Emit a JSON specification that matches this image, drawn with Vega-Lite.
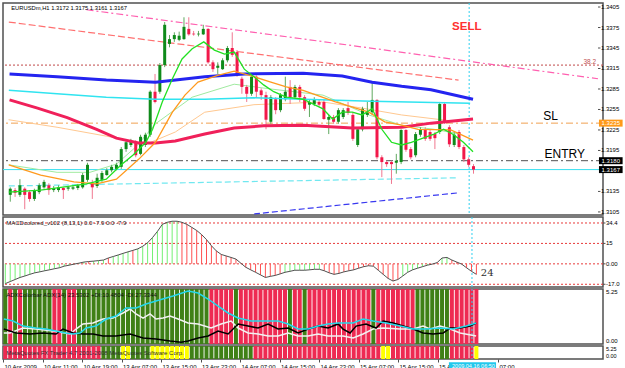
{
"$schema":"https://vega.github.io/schema/vega-lite/v6.json",
"padding":{"left":0,"top":1,"right":0,"bottom":0},
"background":"#ffffff",
"spacing":2,
"bounds":"flush",
"config":{"view":{"stroke":"#505050","strokeWidth":1.5,"fill":"#ffffff"},
"axis":{"grid":false,"title":null,"domain":false,"labelFont":"Liberation Sans","labelFontSize":6,"labelColor":"#000000","tickColor":"#505050","tickSize":2,"labelPadding":1,"labelFlush":false,"labelOverlap":false},
"text":{"font":"Liberation Sans"}},
"datasets":{
"candles":[
{"i":0,"o":1.3130,"h":1.3141,"l":1.3120,"c":1.3139},
{"i":1,"o":1.3137,"h":1.3140,"l":1.3127,"c":1.3133},
{"i":2,"o":1.3130,"h":1.3153,"l":1.3127,"c":1.3144},
{"i":3,"o":1.3139,"h":1.3141,"l":1.3109,"c":1.3130},
{"i":4,"o":1.3134,"h":1.3137,"l":1.3120,"c":1.3124},
{"i":5,"o":1.3124,"h":1.3139,"l":1.3121,"c":1.3136},
{"i":6,"o":1.3134,"h":1.3147,"l":1.3131,"c":1.3144},
{"i":7,"o":1.3141,"h":1.3152,"l":1.3139,"c":1.3149},
{"i":8,"o":1.3144,"h":1.3147,"l":1.3130,"c":1.3137},
{"i":9,"o":1.3137,"h":1.3143,"l":1.3134,"c":1.3140},
{"i":10,"o":1.3137,"h":1.3144,"l":1.3134,"c":1.3141},
{"i":11,"o":1.3140,"h":1.3141,"l":1.3124,"c":1.3137},
{"i":12,"o":1.3139,"h":1.3143,"l":1.3136,"c":1.3141},
{"i":13,"o":1.3139,"h":1.3144,"l":1.3137,"c":1.3141},
{"i":14,"o":1.3140,"h":1.3146,"l":1.3137,"c":1.3144},
{"i":15,"o":1.3141,"h":1.3162,"l":1.3139,"c":1.3159},
{"i":16,"o":1.3152,"h":1.3177,"l":1.3149,"c":1.3174},
{"i":17,"o":1.3147,"h":1.3152,"l":1.3124,"c":1.3141},
{"i":18,"o":1.3143,"h":1.3161,"l":1.3140,"c":1.3155},
{"i":19,"o":1.3152,"h":1.3165,"l":1.3149,"c":1.3162},
{"i":20,"o":1.3159,"h":1.3169,"l":1.3158,"c":1.3166},
{"i":21,"o":1.3166,"h":1.3174,"l":1.3163,"c":1.3171},
{"i":22,"o":1.3168,"h":1.3177,"l":1.3166,"c":1.3174},
{"i":23,"o":1.3171,"h":1.3200,"l":1.3168,"c":1.3197},
{"i":24,"o":1.3197,"h":1.3210,"l":1.3193,"c":1.3207},
{"i":25,"o":1.3203,"h":1.3212,"l":1.3200,"c":1.3209},
{"i":26,"o":1.3207,"h":1.3210,"l":1.3185,"c":1.3188},
{"i":27,"o":1.3190,"h":1.3218,"l":1.3188,"c":1.3215},
{"i":28,"o":1.3203,"h":1.3221,"l":1.3200,"c":1.3218},
{"i":29,"o":1.3218,"h":1.3283,"l":1.3215,"c":1.3281},
{"i":30,"o":1.3281,"h":1.3307,"l":1.3264,"c":1.3266},
{"i":31,"o":1.3281,"h":1.3323,"l":1.3278,"c":1.3320},
{"i":32,"o":1.3320,"h":1.3383,"l":1.3317,"c":1.3379},
{"i":33,"o":1.3351,"h":1.3364,"l":1.3346,"c":1.3358},
{"i":34,"o":1.3358,"h":1.3368,"l":1.3354,"c":1.3364},
{"i":35,"o":1.3357,"h":1.3369,"l":1.3355,"c":1.3363},
{"i":36,"o":1.3358,"h":1.3390,"l":1.3357,"c":1.3376},
{"i":37,"o":1.3373,"h":1.3390,"l":1.3363,"c":1.3365},
{"i":38,"o":1.3366,"h":1.3370,"l":1.3363,"c":1.3365},
{"i":39,"o":1.3365,"h":1.3370,"l":1.3362,"c":1.3366},
{"i":40,"o":1.3365,"h":1.3379,"l":1.3364,"c":1.3373},
{"i":41,"o":1.3373,"h":1.3374,"l":1.3322,"c":1.3324},
{"i":42,"o":1.3324,"h":1.3327,"l":1.3310,"c":1.3314},
{"i":43,"o":1.3316,"h":1.3324,"l":1.3307,"c":1.3319},
{"i":44,"o":1.3314,"h":1.3330,"l":1.3313,"c":1.3327},
{"i":45,"o":1.3327,"h":1.3348,"l":1.3324,"c":1.3345},
{"i":46,"o":1.3345,"h":1.3368,"l":1.3332,"c":1.3335},
{"i":47,"o":1.3339,"h":1.3342,"l":1.3303,"c":1.3305},
{"i":48,"o":1.3300,"h":1.3303,"l":1.3278,"c":1.3288},
{"i":49,"o":1.3288,"h":1.3291,"l":1.3266,"c":1.3278},
{"i":50,"o":1.3278,"h":1.3305,"l":1.3275,"c":1.3303},
{"i":51,"o":1.3303,"h":1.3305,"l":1.3272,"c":1.3281},
{"i":52,"o":1.3283,"h":1.3286,"l":1.3269,"c":1.3276},
{"i":53,"o":1.3276,"h":1.3281,"l":1.3226,"c":1.3240},
{"i":54,"o":1.3237,"h":1.3276,"l":1.3234,"c":1.3273},
{"i":55,"o":1.3270,"h":1.3273,"l":1.3248,"c":1.3254},
{"i":56,"o":1.3254,"h":1.3279,"l":1.3251,"c":1.3276},
{"i":57,"o":1.3270,"h":1.3303,"l":1.3267,"c":1.3281},
{"i":58,"o":1.3288,"h":1.3298,"l":1.3263,"c":1.3273},
{"i":59,"o":1.3273,"h":1.3291,"l":1.3270,"c":1.3288},
{"i":60,"o":1.3288,"h":1.3291,"l":1.3266,"c":1.3273},
{"i":61,"o":1.3273,"h":1.3276,"l":1.3253,"c":1.3256},
{"i":62,"o":1.3262,"h":1.3270,"l":1.3244,"c":1.3266},
{"i":63,"o":1.3263,"h":1.3273,"l":1.3260,"c":1.3270},
{"i":64,"o":1.3266,"h":1.3269,"l":1.3259,"c":1.3262},
{"i":65,"o":1.3266,"h":1.3269,"l":1.3240,"c":1.3241},
{"i":66,"o":1.3240,"h":1.3247,"l":1.3219,"c":1.3244},
{"i":67,"o":1.3244,"h":1.3247,"l":1.3234,"c":1.3237},
{"i":68,"o":1.3237,"h":1.3257,"l":1.3234,"c":1.3254},
{"i":69,"o":1.3244,"h":1.3257,"l":1.3241,"c":1.3254},
{"i":70,"o":1.3257,"h":1.3266,"l":1.3247,"c":1.3250},
{"i":71,"o":1.3247,"h":1.3251,"l":1.3209,"c":1.3212},
{"i":72,"o":1.3203,"h":1.3229,"l":1.3200,"c":1.3226},
{"i":73,"o":1.3226,"h":1.3259,"l":1.3223,"c":1.3256},
{"i":74,"o":1.3247,"h":1.3266,"l":1.3244,"c":1.3251},
{"i":75,"o":1.3251,"h":1.3295,"l":1.3247,"c":1.3269},
{"i":76,"o":1.3269,"h":1.3270,"l":1.3182,"c":1.3185},
{"i":77,"o":1.3185,"h":1.3188,"l":1.3156,"c":1.3178},
{"i":78,"o":1.3178,"h":1.3180,"l":1.3171,"c":1.3175},
{"i":79,"o":1.3178,"h":1.3180,"l":1.3146,"c":1.3175},
{"i":80,"o":1.3177,"h":1.3190,"l":1.3161,"c":1.3180},
{"i":81,"o":1.3178,"h":1.3226,"l":1.3175,"c":1.3225},
{"i":82,"o":1.3225,"h":1.3226,"l":1.3193,"c":1.3196},
{"i":83,"o":1.3197,"h":1.3200,"l":1.3182,"c":1.3185},
{"i":84,"o":1.3188,"h":1.3222,"l":1.3185,"c":1.3219},
{"i":85,"o":1.3218,"h":1.3229,"l":1.3215,"c":1.3225},
{"i":86,"o":1.3225,"h":1.3229,"l":1.3209,"c":1.3212},
{"i":87,"o":1.3222,"h":1.3225,"l":1.3209,"c":1.3212},
{"i":88,"o":1.3219,"h":1.3222,"l":1.3197,"c":1.3213},
{"i":89,"o":1.3222,"h":1.3266,"l":1.3219,"c":1.3263},
{"i":90,"o":1.3263,"h":1.3266,"l":1.3234,"c":1.3237},
{"i":91,"o":1.3229,"h":1.3232,"l":1.3200,"c":1.3204},
{"i":92,"o":1.3203,"h":1.3222,"l":1.3200,"c":1.3218},
{"i":93,"o":1.3222,"h":1.3225,"l":1.3197,"c":1.3200},
{"i":94,"o":1.3200,"h":1.3203,"l":1.3178,"c":1.3182},
{"i":95,"o":1.3182,"h":1.3185,"l":1.3171,"c":1.3174},
{"i":96,"o":1.3172,"h":1.3175,"l":1.3161,"c":1.3167}
],
"ma":[
{"s":"blue","i":-0.15,"p":1.3307},{"s":"blue","i":9.7,"p":1.3303},{"s":"blue","i":19.9,"p":1.3298},{"s":"blue","i":30.1,"p":1.3295},{"s":"blue","i":40.3,"p":1.3303},{"s":"blue","i":48.5,"p":1.3307},{"s":"blue","i":60.7,"p":1.3308},{"s":"blue","i":68.8,"p":1.3304},{"s":"blue","i":75.0,"p":1.3295},{"s":"blue","i":81.1,"p":1.3289},{"s":"blue","i":87.2,"p":1.3284},{"s":"blue","i":95.9,"p":1.3270},
{"s":"cyan","i":-0.3,"p":1.3283},{"s":"cyan","i":9.7,"p":1.3278},{"s":"cyan","i":19.9,"p":1.3273},{"s":"cyan","i":30.1,"p":1.3270},{"s":"cyan","i":40.3,"p":1.3270},{"s":"cyan","i":50.5,"p":1.3272},{"s":"cyan","i":60.7,"p":1.3270},{"s":"cyan","i":74.9,"p":1.3267},{"s":"cyan","i":95.3,"p":1.3264},
{"s":"red","i":-0.15,"p":1.3269},{"s":"red","i":5.65,"p":1.3257},{"s":"red","i":11.8,"p":1.3243},{"s":"red","i":17.9,"p":1.3226},{"s":"red","i":22,"p":1.3213},{"s":"red","i":26.6,"p":1.3206},{"s":"red","i":30.1,"p":1.3206},{"s":"red","i":34.2,"p":1.3209},{"s":"red","i":40.3,"p":1.3219},{"s":"red","i":46.4,"p":1.3228},{"s":"red","i":52.5,"p":1.3231},{"s":"red","i":60.7,"p":1.3232},{"s":"red","i":70.9,"p":1.3228},{"s":"red","i":81.1,"p":1.3229},{"s":"red","i":87.2,"p":1.3235},{"s":"red","i":95.9,"p":1.3241},
{"s":"orange","i":-0.3,"p":1.3174},{"s":"orange","i":6.3,"p":1.3159},{"s":"orange","i":13.2,"p":1.3149},{"s":"orange","i":17.9,"p":1.3146},{"s":"orange","i":22,"p":1.3153},{"s":"orange","i":26.6,"p":1.3182},{"s":"orange","i":30.1,"p":1.3207},{"s":"orange","i":33.6,"p":1.3251},{"s":"orange","i":36.2,"p":1.3276},{"s":"orange","i":38.9,"p":1.3295},{"s":"orange","i":43,"p":1.3305},{"s":"orange","i":46.4,"p":1.3311},{"s":"orange","i":50.5,"p":1.3303},{"s":"orange","i":54,"p":1.3295},{"s":"orange","i":57.2,"p":1.3288},{"s":"orange","i":60.7,"p":1.3283},{"s":"orange","i":67.4,"p":1.3266},{"s":"orange","i":74.3,"p":1.3251},{"s":"orange","i":77.6,"p":1.3237},{"s":"orange","i":81.1,"p":1.3232},{"s":"orange","i":84.5,"p":1.3226},{"s":"orange","i":91.3,"p":1.3225},{"s":"orange","i":95.9,"p":1.3210},
{"s":"green","i":-0.3,"p":1.3134},{"s":"green","i":6.3,"p":1.3137},{"s":"green","i":15.8,"p":1.3146},{"s":"green","i":19.9,"p":1.3153},{"s":"green","i":23,"p":1.3174},{"s":"green","i":25.4,"p":1.3188},{"s":"green","i":28.1,"p":1.3207},{"s":"green","i":29.5,"p":1.3226},{"s":"green","i":31.5,"p":1.3266},{"s":"green","i":33.6,"p":1.3300},{"s":"green","i":35.6,"p":1.3329},{"s":"green","i":37.7,"p":1.3344},{"s":"green","i":40.1,"p":1.3354},{"s":"green","i":42.3,"p":1.3342},{"s":"green","i":44.4,"p":1.3336},{"s":"green","i":46.4,"p":1.3339},{"s":"green","i":48.5,"p":1.3314},{"s":"green","i":50.5,"p":1.3303},{"s":"green","i":52.5,"p":1.3291},{"s":"green","i":54.6,"p":1.3281},{"s":"green","i":57.2,"p":1.3273},{"s":"green","i":60.7,"p":1.3270},{"s":"green","i":64.8,"p":1.3256},{"s":"green","i":66.8,"p":1.3241},{"s":"green","i":68.8,"p":1.3251},{"s":"green","i":70.9,"p":1.3251},{"s":"green","i":72.9,"p":1.3247},{"s":"green","i":75,"p":1.3256},{"s":"green","i":77,"p":1.3226},{"s":"green","i":79,"p":1.3207},{"s":"green","i":81.1,"p":1.3203},{"s":"green","i":83.1,"p":1.3207},{"s":"green","i":85.1,"p":1.3212},{"s":"green","i":87.8,"p":1.3219},{"s":"green","i":89.8,"p":1.3226},{"s":"green","i":91.9,"p":1.3218},{"s":"green","i":93.9,"p":1.3207},{"s":"green","i":95.9,"p":1.3193},
{"s":"lgreen","i":-0.35,"p":1.3174},{"s":"lgreen","i":9.7,"p":1.3163},{"s":"lgreen","i":16.5,"p":1.3163},{"s":"lgreen","i":22,"p":1.3175},{"s":"lgreen","i":26,"p":1.3200},{"s":"lgreen","i":30.1,"p":1.3234},{"s":"lgreen","i":37.7,"p":1.3273},{"s":"lgreen","i":46.4,"p":1.3292},{"s":"lgreen","i":54,"p":1.3285},{"s":"lgreen","i":64.8,"p":1.3276},{"s":"lgreen","i":74.3,"p":1.3247},{"s":"lgreen","i":81.1,"p":1.3232},{"s":"lgreen","i":87.8,"p":1.3226},{"s":"lgreen","i":93.3,"p":1.3219},
{"s":"lorange","i":-0.35,"p":1.3240},{"s":"lorange","i":9.7,"p":1.3229},{"s":"lorange","i":19.9,"p":1.3216},{"s":"lorange","i":28.1,"p":1.3204},{"s":"lorange","i":34.2,"p":1.3222},{"s":"lorange","i":40.3,"p":1.3251},{"s":"lorange","i":50.5,"p":1.3262},{"s":"lorange","i":64.8,"p":1.3266},{"s":"lorange","i":72.9,"p":1.3257},{"s":"lorange","i":81.1,"p":1.3247},{"s":"lorange","i":92.9,"p":1.3237}
],
"tl":[
{"s":"pink","i":15.8,"p":1.3401},{"s":"pink","i":121.8,"p":1.3300},
{"s":"salmon","i":-0.3,"p":1.3383},{"s":"salmon","i":92.9,"p":1.3298},
{"s":"cyand","i":-0.3,"p":1.3143},{"s":"cyand","i":92.9,"p":1.3155},
{"s":"blued","i":50.5,"p":1.3102},{"s":"blued","i":92.9,"p":1.3133}
],
"lvl":[{"s":"fib","p":1.3320},{"s":"sl","p":1.3235},{"s":"entry","p":1.3180},{"s":"bid","p":1.3167}],
"tags":[{"p":1.3235,"t":"1.3235","k":"sl"},{"p":1.3180,"t":"1.3180","k":"e"},{"p":1.3167,"t":"1.3167","k":"b"}],
"ylabMain":[{"p":1.3405,"t":"1.3405"},{"p":1.3375,"t":"1.3375"},{"p":1.3345,"t":"1.3345"},{"p":1.3315,"t":"1.3315"},{"p":1.3285,"t":"1.3285"},{"p":1.3255,"t":"1.3255"},{"p":1.3225,"t":"1.3225"},{"p":1.3195,"t":"1.3195"},{"p":1.3135,"t":"1.3135"},{"p":1.3105,"t":"1.3105"}],
"ylabMacd":[{"v":30,"t":"34.4"},{"v":15,"t":"15"},{"v":0,"t":"0.00"},{"v":-15,"t":"-17.0"}],
"ylabAdx":[{"v":5.1,"t":"5.25"},{"v":0.15,"t":"0.00"}],
"ylabStrip":[{"v":0.78,"t":"5.25"},{"v":0.22,"t":"0.00"}],
"now":[{"i":95.1}],
"macd":[
{"i":0,"v":-14.5,"t":"u"},{"i":1,"v":-13,"t":"u"},{"i":2,"v":-11.5,"t":"u"},{"i":3,"v":-10,"t":"u"},{"i":4,"v":-8.9,"t":"u"},{"i":5,"v":-7.7,"t":"u"},{"i":6,"v":-6.6,"t":"u"},{"i":7,"v":-5.9,"t":"u"},{"i":8,"v":-5.1,"t":"u"},{"i":9,"v":-4.4,"t":"u"},{"i":10,"v":-3.6,"t":"u"},{"i":11,"v":-2.9,"t":"u"},{"i":12,"v":-1.7,"t":"u"},{"i":13,"v":-1,"t":"u"},{"i":14,"v":-0.2,"t":"u"},{"i":15,"v":0.5,"t":"u"},{"i":16,"v":1.3,"t":"u"},{"i":17,"v":1.7,"t":"d"},{"i":18,"v":2,"t":"u"},{"i":19,"v":2.4,"t":"u"},{"i":20,"v":2.8,"t":"u"},{"i":21,"v":4.3,"t":"d"},{"i":22,"v":5.4,"t":"u"},{"i":23,"v":6.5,"t":"u"},{"i":24,"v":7.7,"t":"u"},{"i":25,"v":8.8,"t":"u"},{"i":26,"v":9.9,"t":"d"},{"i":27,"v":11,"t":"u"},{"i":28,"v":12.9,"t":"u"},{"i":29,"v":15.5,"t":"u"},{"i":30,"v":19.3,"t":"u"},{"i":31,"v":23.8,"t":"u"},{"i":32,"v":29,"t":"u"},{"i":33,"v":30.5,"t":"u"},{"i":34,"v":31.3,"t":"u"},{"i":35,"v":31.3,"t":"u"},{"i":36,"v":30.5,"t":"d"},{"i":37,"v":29,"t":"d"},{"i":38,"v":26.8,"t":"d"},{"i":39,"v":24.5,"t":"d"},{"i":40,"v":21.5,"t":"d"},{"i":41,"v":17.8,"t":"d"},{"i":42,"v":13.3,"t":"d"},{"i":43,"v":9.5,"t":"d"},{"i":44,"v":6.9,"t":"d"},{"i":45,"v":5.8,"t":"d"},{"i":46,"v":4.7,"t":"d"},{"i":47,"v":3.5,"t":"d"},{"i":48,"v":0.5,"t":"d"},{"i":49,"v":-2.5,"t":"d"},{"i":50,"v":-4.4,"t":"d"},{"i":51,"v":-6.2,"t":"d"},{"i":52,"v":-8.1,"t":"d"},{"i":53,"v":-10,"t":"d"},{"i":54,"v":-9.2,"t":"d"},{"i":55,"v":-8.5,"t":"d"},{"i":56,"v":-7.4,"t":"d"},{"i":57,"v":-6.2,"t":"u"},{"i":58,"v":-5.5,"t":"u"},{"i":59,"v":-4.7,"t":"u"},{"i":60,"v":-4.7,"t":"u"},{"i":61,"v":-4.7,"t":"u"},{"i":62,"v":-4.4,"t":"u"},{"i":63,"v":-4,"t":"u"},{"i":64,"v":-4,"t":"u"},{"i":65,"v":-5.1,"t":"d"},{"i":66,"v":-6.6,"t":"d"},{"i":67,"v":-7.7,"t":"d"},{"i":68,"v":-7,"t":"d"},{"i":69,"v":-5.9,"t":"d"},{"i":70,"v":-5.1,"t":"d"},{"i":71,"v":-4.4,"t":"d"},{"i":72,"v":-3.2,"t":"d"},{"i":73,"v":-2.1,"t":"d"},{"i":74,"v":-1.4,"t":"d"},{"i":75,"v":-1.7,"t":"d"},{"i":76,"v":-4.7,"t":"d"},{"i":77,"v":-7.7,"t":"d"},{"i":78,"v":-10.7,"t":"d"},{"i":79,"v":-12.6,"t":"d"},{"i":80,"v":-11.5,"t":"d"},{"i":81,"v":-8.9,"t":"u"},{"i":82,"v":-6.2,"t":"u"},{"i":83,"v":-4.4,"t":"u"},{"i":84,"v":-3.2,"t":"u"},{"i":85,"v":-2.1,"t":"u"},{"i":86,"v":-1,"t":"u"},{"i":87,"v":-0.2,"t":"d"},{"i":88,"v":0.9,"t":"d"},{"i":89,"v":4.3,"t":"u"},{"i":90,"v":4.7,"t":"u"},{"i":91,"v":2.8,"t":"d"},{"i":92,"v":1.3,"t":"d"},{"i":93,"v":-0.2,"t":"d"},{"i":94,"v":-2.9,"t":"d"},{"i":95,"v":-5.5,"t":"d"},{"i":96,"v":-7.7,"t":"d"}
],
"macdlvl":[{"v":30},{"v":15},{"v":0},{"v":-15}],
"adxc":[
{"i":0,"c":"G"},{"i":1,"c":"R"},{"i":2,"c":"G"},{"i":3,"c":"R"},{"i":4,"c":"G"},{"i":5,"c":"G"},{"i":6,"c":"G"},{"i":7,"c":"G"},{"i":8,"c":"G"},{"i":9,"c":"G"},{"i":10,"c":"R"},{"i":11,"c":"R"},{"i":12,"c":"G"},{"i":13,"c":"R"},{"i":14,"c":"R"},{"i":15,"c":"G"},{"i":16,"c":"G"},{"i":17,"c":"G"},{"i":18,"c":"G"},{"i":19,"c":"G"},{"i":20,"c":"G"},{"i":21,"c":"G"},{"i":22,"c":"G"},{"i":23,"c":"G"},{"i":24,"c":"G"},{"i":25,"c":"G"},{"i":26,"c":"G"},{"i":27,"c":"G"},{"i":28,"c":"G"},{"i":29,"c":"G"},{"i":30,"c":"G"},{"i":31,"c":"G"},{"i":32,"c":"G"},{"i":33,"c":"G"},{"i":34,"c":"G"},{"i":35,"c":"G"},{"i":36,"c":"G"},{"i":37,"c":"G"},{"i":38,"c":"G"},{"i":39,"c":"G"},{"i":40,"c":"G"},{"i":41,"c":"G"},{"i":42,"c":"R"},{"i":43,"c":"R"},{"i":44,"c":"R"},{"i":45,"c":"R"},{"i":46,"c":"R"},{"i":47,"c":"G"},{"i":48,"c":"R"},{"i":49,"c":"R"},{"i":50,"c":"R"},{"i":51,"c":"R"},{"i":52,"c":"R"},{"i":53,"c":"R"},{"i":54,"c":"R"},{"i":55,"c":"R"},{"i":56,"c":"R"},{"i":57,"c":"R"},{"i":58,"c":"G"},{"i":59,"c":"R"},{"i":60,"c":"R"},{"i":61,"c":"G"},{"i":62,"c":"R"},{"i":63,"c":"R"},{"i":64,"c":"R"},{"i":65,"c":"R"},{"i":66,"c":"R"},{"i":67,"c":"R"},{"i":68,"c":"R"},{"i":69,"c":"R"},{"i":70,"c":"R"},{"i":71,"c":"R"},{"i":72,"c":"R"},{"i":73,"c":"R"},{"i":74,"c":"R"},{"i":75,"c":"G"},{"i":76,"c":"R"},{"i":77,"c":"R"},{"i":78,"c":"R"},{"i":79,"c":"R"},{"i":80,"c":"R"},{"i":81,"c":"R"},{"i":82,"c":"R"},{"i":83,"c":"R"},{"i":84,"c":"G"},{"i":85,"c":"G"},{"i":86,"c":"G"},{"i":87,"c":"G"},{"i":88,"c":"G"},{"i":89,"c":"G"},{"i":90,"c":"G"},{"i":91,"c":"R"},{"i":92,"c":"R"},{"i":93,"c":"R"},{"i":94,"c":"R"},{"i":95,"c":"R"},{"i":96,"c":"R"}
],
"adxl":[
{"s":"adx","i":-0.3,"v":2.37},{"s":"adx","i":1.57,"v":2.17},{"s":"adx","i":3.61,"v":1.66},{"s":"adx","i":6.26,"v":1.46},{"s":"adx","i":8.3,"v":1.36},{"s":"adx","i":10.33,"v":1.16},{"s":"adx","i":12.37,"v":0.96},{"s":"adx","i":13.8,"v":0.86},{"s":"adx","i":15.23,"v":0.96},{"s":"adx","i":16.45,"v":1.46},{"s":"adx","i":18.49,"v":1.66},{"s":"adx","i":20.53,"v":2.37},{"s":"adx","i":22.56,"v":2.67},{"s":"adx","i":24.6,"v":3.48},{"s":"adx","i":26.64,"v":3.48},{"s":"adx","i":28.68,"v":3.88},{"s":"adx","i":30.72,"v":4.19},{"s":"adx","i":32.76,"v":4.49},{"s":"adx","i":34.18,"v":4.69},{"s":"adx","i":37.24,"v":5.2},{"s":"adx","i":39.28,"v":4.99},{"s":"adx","i":41.32,"v":4.39},{"s":"adx","i":43.36,"v":3.68},{"s":"adx","i":45.4,"v":2.98},{"s":"adx","i":47.44,"v":2.47},{"s":"adx","i":50.08,"v":2.17},{"s":"adx","i":53.55,"v":2.17},{"s":"adx","i":55.59,"v":2.17},{"s":"adx","i":57.63,"v":1.87},{"s":"adx","i":59.67,"v":1.36},{"s":"adx","i":61.7,"v":1.36},{"s":"adx","i":63.74,"v":1.66},{"s":"adx","i":65.78,"v":1.87},{"s":"adx","i":67.82,"v":1.97},{"s":"adx","i":70.88,"v":1.97},{"s":"adx","i":72.91,"v":2.37},{"s":"adx","i":74.95,"v":2.17},{"s":"adx","i":77.6,"v":1.97},{"s":"adx","i":80.46,"v":1.66},{"s":"adx","i":83.11,"v":1.36},{"s":"adx","i":85.76,"v":1.36},{"s":"adx","i":88.61,"v":1.46},{"s":"adx","i":91.26,"v":1.36},{"s":"adx","i":93.91,"v":1.66},{"s":"adx","i":95.94,"v":1.97},
{"s":"pdi","i":-0.3,"v":0.96},{"s":"pdi","i":0.96,"v":0.96},{"s":"pdi","i":3.61,"v":1.46},{"s":"pdi","i":6.26,"v":1.36},{"s":"pdi","i":9.72,"v":1.16},{"s":"pdi","i":13.19,"v":0.86},{"s":"pdi","i":14.41,"v":1.36},{"s":"pdi","i":15.84,"v":1.87},{"s":"pdi","i":17.88,"v":1.97},{"s":"pdi","i":19.91,"v":2.37},{"s":"pdi","i":21.95,"v":2.47},{"s":"pdi","i":23.99,"v":2.98},{"s":"pdi","i":25.42,"v":3.38},{"s":"pdi","i":26.64,"v":2.88},{"s":"pdi","i":28.07,"v":2.47},{"s":"pdi","i":29.49,"v":2.88},{"s":"pdi","i":30.72,"v":2.37},{"s":"pdi","i":32.14,"v":2.47},{"s":"pdi","i":33.57,"v":2.67},{"s":"pdi","i":35.2,"v":2.37},{"s":"pdi","i":37.24,"v":1.97},{"s":"pdi","i":39.28,"v":1.87},{"s":"pdi","i":41.93,"v":1.46},{"s":"pdi","i":43.97,"v":1.87},{"s":"pdi","i":46.01,"v":2.17},{"s":"pdi","i":47.44,"v":1.46},{"s":"pdi","i":49.47,"v":0.96},{"s":"pdi","i":51.51,"v":0.86},{"s":"pdi","i":53.55,"v":0.66},{"s":"pdi","i":55.59,"v":0.66},{"s":"pdi","i":57.63,"v":0.96},{"s":"pdi","i":59.67,"v":0.66},{"s":"pdi","i":61.7,"v":0.66},{"s":"pdi","i":63.74,"v":0.86},{"s":"pdi","i":65.78,"v":0.66},{"s":"pdi","i":68.83,"v":0.66},{"s":"pdi","i":70.88,"v":0.45},{"s":"pdi","i":72.91,"v":0.86},{"s":"pdi","i":74.95,"v":1.36},{"s":"pdi","i":76.99,"v":1.46},{"s":"pdi","i":80.46,"v":1.36},{"s":"pdi","i":83.11,"v":1.36},{"s":"pdi","i":85.14,"v":1.66},{"s":"pdi","i":86.57,"v":1.36},{"s":"pdi","i":88.61,"v":1.66},{"s":"pdi","i":90.65,"v":1.36},{"s":"pdi","i":92.68,"v":0.96},{"s":"pdi","i":95.94,"v":0.66},
{"s":"mdi","i":-0.3,"v":1.36},{"s":"mdi","i":2.18,"v":0.96},{"s":"mdi","i":5.03,"v":0.86},{"s":"mdi","i":7.68,"v":0.96},{"s":"mdi","i":10.33,"v":0.86},{"s":"mdi","i":11.76,"v":1.36},{"s":"mdi","i":13.8,"v":0.96},{"s":"mdi","i":15.84,"v":0.86},{"s":"mdi","i":17.88,"v":0.86},{"s":"mdi","i":19.91,"v":0.66},{"s":"mdi","i":22.56,"v":0.66},{"s":"mdi","i":25.42,"v":0.86},{"s":"mdi","i":28.07,"v":0.45},{"s":"mdi","i":30.72,"v":0.35},{"s":"mdi","i":33.57,"v":0.15},{"s":"mdi","i":35.81,"v":0.02},{"s":"mdi","i":37.24,"v":0.15},{"s":"mdi","i":39.28,"v":0.45},{"s":"mdi","i":41.32,"v":0.66},{"s":"mdi","i":43.36,"v":1.16},{"s":"mdi","i":45.4,"v":0.86},{"s":"mdi","i":47.44,"v":1.87},{"s":"mdi","i":49.47,"v":1.66},{"s":"mdi","i":51.51,"v":1.46},{"s":"mdi","i":53.55,"v":1.87},{"s":"mdi","i":55.59,"v":1.36},{"s":"mdi","i":57.63,"v":1.46},{"s":"mdi","i":59.67,"v":0.96},{"s":"mdi","i":61.7,"v":1.36},{"s":"mdi","i":63.74,"v":1.66},{"s":"mdi","i":65.78,"v":1.46},{"s":"mdi","i":67.82,"v":1.87},{"s":"mdi","i":68.83,"v":1.36},{"s":"mdi","i":70.26,"v":0.96},{"s":"mdi","i":71.49,"v":1.66},{"s":"mdi","i":73.52,"v":1.87},{"s":"mdi","i":75.56,"v":1.46},{"s":"mdi","i":76.99,"v":2.17},{"s":"mdi","i":79.03,"v":1.97},{"s":"mdi","i":81.07,"v":1.66},{"s":"mdi","i":83.11,"v":1.36},{"s":"mdi","i":85.14,"v":0.96},{"s":"mdi","i":87.18,"v":0.86},{"s":"mdi","i":89.22,"v":0.96},{"s":"mdi","i":90.65,"v":1.46},{"s":"mdi","i":92.68,"v":1.46},{"s":"mdi","i":94.72,"v":1.66},{"s":"mdi","i":95.94,"v":1.97}
],
"strip":[
{"i":0,"c":"R"},{"i":1,"c":"R"},{"i":2,"c":"R"},{"i":3,"c":"R"},{"i":4,"c":"R"},{"i":5,"c":"R"},{"i":6,"c":"R"},{"i":7,"c":"R"},{"i":8,"c":"R"},{"i":9,"c":"R"},{"i":10,"c":"R"},{"i":11,"c":"R"},{"i":12,"c":"R"},{"i":13,"c":"R"},{"i":14,"c":"R"},{"i":15,"c":"R"},{"i":16,"c":"R"},{"i":17,"c":"R"},{"i":18,"c":"R"},{"i":19,"c":"R"},{"i":20,"c":"G"},{"i":21,"c":"G"},{"i":22,"c":"G"},{"i":23,"c":"G"},{"i":24,"c":"Y"},{"i":25,"c":"Y"},{"i":26,"c":"G"},{"i":27,"c":"G"},{"i":28,"c":"G"},{"i":29,"c":"G"},{"i":30,"c":"Y"},{"i":31,"c":"Y"},{"i":32,"c":"Y"},{"i":33,"c":"Y"},{"i":34,"c":"Y"},{"i":35,"c":"Y"},{"i":36,"c":"Y"},{"i":37,"c":"Y"},{"i":38,"c":"G"},{"i":39,"c":"G"},{"i":40,"c":"G"},{"i":41,"c":"G"},{"i":42,"c":"G"},{"i":43,"c":"G"},{"i":44,"c":"G"},{"i":45,"c":"G"},{"i":46,"c":"G"},{"i":47,"c":"G"},{"i":48,"c":"G"},{"i":49,"c":"G"},{"i":50,"c":"G"},{"i":51,"c":"R"},{"i":52,"c":"R"},{"i":53,"c":"R"},{"i":54,"c":"R"},{"i":55,"c":"R"},{"i":56,"c":"R"},{"i":57,"c":"R"},{"i":58,"c":"R"},{"i":59,"c":"R"},{"i":60,"c":"R"},{"i":61,"c":"R"},{"i":62,"c":"R"},{"i":63,"c":"R"},{"i":64,"c":"R"},{"i":65,"c":"R"},{"i":66,"c":"R"},{"i":67,"c":"R"},{"i":68,"c":"R"},{"i":69,"c":"R"},{"i":70,"c":"R"},{"i":71,"c":"R"},{"i":72,"c":"R"},{"i":73,"c":"R"},{"i":74,"c":"R"},{"i":75,"c":"R"},{"i":76,"c":"R"},{"i":77,"c":"Y"},{"i":78,"c":"Y"},{"i":79,"c":"R"},{"i":80,"c":"R"},{"i":81,"c":"R"},{"i":82,"c":"R"},{"i":83,"c":"R"},{"i":84,"c":"R"},{"i":85,"c":"R"},{"i":86,"c":"R"},{"i":87,"c":"R"},{"i":88,"c":"R"},{"i":89,"c":"G"},{"i":90,"c":"G"},{"i":91,"c":"R"},{"i":92,"c":"R"},{"i":93,"c":"R"},{"i":94,"c":"R"},{"i":95,"c":"R"},{"i":96,"c":"Y"}
]
},
"vconcat":[
{
"width":600,"height":212,
"layer":[
{"data":{"name":"lvl"},"transform":[{"filter":"datum.s=='fib'"}],"mark":{"type":"rule","strokeWidth":1,"color":"#c04848","strokeDash":[2,2]},
 "encoding":{"y":{"field":"p","type":"quantitative","scale":{"domain":[1.31005,1.34109],"nice":false,"zero":false},"axis":null}}},
{"data":{"name":"lvl"},"transform":[{"filter":"datum.s=='sl'"}],"mark":{"type":"rule","strokeWidth":1,"color":"#f0a050","strokeDash":[7,3,2,3]},
 "encoding":{"y":{"field":"p","type":"quantitative","scale":{"domain":[1.31005,1.34109],"nice":false,"zero":false},"axis":null}}},
{"data":{"name":"lvl"},"transform":[{"filter":"datum.s=='entry'"}],"mark":{"type":"rule","strokeWidth":1,"color":"#505050","strokeDash":[7,3,2,3]},
 "encoding":{"y":{"field":"p","type":"quantitative","scale":{"domain":[1.31005,1.34109],"nice":false,"zero":false},"axis":null}}},
{"data":{"name":"lvl"},"transform":[{"filter":"datum.s=='bid'"}],"mark":{"type":"rule","strokeWidth":1,"color":"#38e0f0"},
 "encoding":{"y":{"field":"p","type":"quantitative","scale":{"domain":[1.31005,1.34109],"nice":false,"zero":false},"axis":null}}},
{"data":{"name":"now"},"mark":{"type":"rule","color":"#30d0f0","strokeDash":[2,2],"strokeWidth":1},
 "encoding":{"x":{"field":"i","type":"quantitative","scale":{"domain":[-0.47,121.8],"nice":false,"zero":false},"axis":null}}},
{"data":{"name":"tl"},"transform":[{"filter":"datum.s=='pink'"}],"mark":{"type":"line","strokeWidth":1.2,"color":"#ff60b0","strokeDash":[7,3,2,3]},
 "encoding":{"x":{"field":"i","type":"quantitative","scale":{"domain":[-0.47,121.8],"nice":false,"zero":false},"axis":null},
 "y":{"field":"p","type":"quantitative","scale":{"domain":[1.31005,1.34109],"nice":false,"zero":false},"axis":null}}},
{"data":{"name":"tl"},"transform":[{"filter":"datum.s=='salmon'"}],"mark":{"type":"line","strokeWidth":1.2,"color":"#ff7070","strokeDash":[7,3]},
 "encoding":{"x":{"field":"i","type":"quantitative","scale":{"domain":[-0.47,121.8],"nice":false,"zero":false},"axis":null},
 "y":{"field":"p","type":"quantitative","scale":{"domain":[1.31005,1.34109],"nice":false,"zero":false},"axis":null}}},
{"data":{"name":"tl"},"transform":[{"filter":"datum.s=='cyand'"}],"mark":{"type":"line","strokeWidth":1.2,"color":"#70e8f0","strokeDash":[6,3]},
 "encoding":{"x":{"field":"i","type":"quantitative","scale":{"domain":[-0.47,121.8],"nice":false,"zero":false},"axis":null},
 "y":{"field":"p","type":"quantitative","scale":{"domain":[1.31005,1.34109],"nice":false,"zero":false},"axis":null}}},
{"data":{"name":"tl"},"transform":[{"filter":"datum.s=='blued'"}],"mark":{"type":"line","strokeWidth":1.2,"color":"#3838f0","strokeDash":[6,3]},
 "encoding":{"x":{"field":"i","type":"quantitative","scale":{"domain":[-0.47,121.8],"nice":false,"zero":false},"axis":null},
 "y":{"field":"p","type":"quantitative","scale":{"domain":[1.31005,1.34109],"nice":false,"zero":false},"axis":null}}},
{"data":{"name":"ma"},"transform":[{"filter":"datum.s=='lorange'"}],"mark":{"type":"line","strokeWidth":1,"color":"#ffc890"},
 "encoding":{"x":{"field":"i","type":"quantitative","scale":{"domain":[-0.47,121.8],"nice":false,"zero":false},"axis":null},
 "y":{"field":"p","type":"quantitative","scale":{"domain":[1.31005,1.34109],"nice":false,"zero":false},"axis":null}}},
{"data":{"name":"ma"},"transform":[{"filter":"datum.s=='lgreen'"}],"mark":{"type":"line","strokeWidth":1,"color":"#a0eaa0"},
 "encoding":{"x":{"field":"i","type":"quantitative","scale":{"domain":[-0.47,121.8],"nice":false,"zero":false},"axis":null},
 "y":{"field":"p","type":"quantitative","scale":{"domain":[1.31005,1.34109],"nice":false,"zero":false},"axis":null}}},
{"data":{"name":"candles"},"mark":{"type":"rule","strokeWidth":1},
 "encoding":{"x":{"field":"i","type":"quantitative","scale":{"domain":[-0.47,121.8],"nice":false,"zero":false},"axis":null},
 "y":{"field":"l","type":"quantitative","scale":{"domain":[1.31005,1.34109],"nice":false,"zero":false},"axis":null},
 "y2":{"field":"h"},
 "color":{"condition":{"test":"datum.c >= datum.o","value":"#5fa85f"},"value":"#f07890"}}},
{"data":{"name":"candles"},"mark":{"type":"bar","width":3},
 "encoding":{"x":{"field":"i","type":"quantitative","scale":{"domain":[-0.47,121.8],"nice":false,"zero":false},"axis":null},
 "y":{"field":"o","type":"quantitative","scale":{"domain":[1.31005,1.34109],"nice":false,"zero":false},"axis":null},
 "y2":{"field":"c"},
 "color":{"condition":{"test":"datum.c >= datum.o","value":"#0f8a1a"},"value":"#f2184a"}}},
{"data":{"name":"ma"},"transform":[{"filter":"datum.s=='cyan'"}],"mark":{"type":"line","strokeWidth":1.5,"color":"#30e4f0"},
 "encoding":{"x":{"field":"i","type":"quantitative","scale":{"domain":[-0.47,121.8],"nice":false,"zero":false},"axis":null},
 "y":{"field":"p","type":"quantitative","scale":{"domain":[1.31005,1.34109],"nice":false,"zero":false},"axis":null}}},
{"data":{"name":"ma"},"transform":[{"filter":"datum.s=='blue'"}],"mark":{"type":"line","strokeWidth":3,"color":"#2424f0"},
 "encoding":{"x":{"field":"i","type":"quantitative","scale":{"domain":[-0.47,121.8],"nice":false,"zero":false},"axis":null},
 "y":{"field":"p","type":"quantitative","scale":{"domain":[1.31005,1.34109],"nice":false,"zero":false},"axis":null}}},
{"data":{"name":"ma"},"transform":[{"filter":"datum.s=='red'"}],"mark":{"type":"line","strokeWidth":3,"color":"#f0205a"},
 "encoding":{"x":{"field":"i","type":"quantitative","scale":{"domain":[-0.47,121.8],"nice":false,"zero":false},"axis":null},
 "y":{"field":"p","type":"quantitative","scale":{"domain":[1.31005,1.34109],"nice":false,"zero":false},"axis":null}}},
{"data":{"name":"ma"},"transform":[{"filter":"datum.s=='orange'"}],"mark":{"type":"line","strokeWidth":1.3,"color":"#ff9a1e"},
 "encoding":{"x":{"field":"i","type":"quantitative","scale":{"domain":[-0.47,121.8],"nice":false,"zero":false},"axis":null},
 "y":{"field":"p","type":"quantitative","scale":{"domain":[1.31005,1.34109],"nice":false,"zero":false},"axis":null}}},
{"data":{"name":"ma"},"transform":[{"filter":"datum.s=='green'"}],"mark":{"type":"line","strokeWidth":1.3,"color":"#22e022"},
 "encoding":{"x":{"field":"i","type":"quantitative","scale":{"domain":[-0.47,121.8],"nice":false,"zero":false},"axis":null},
 "y":{"field":"p","type":"quantitative","scale":{"domain":[1.31005,1.34109],"nice":false,"zero":false},"axis":null}}},
{"data":{"values":[{"t":"EURUSDm,H1  1.3172 1.3175 1.3161 1.3167","i":0.2,"p":1.34035}]},"mark":{"type":"text","align":"left","baseline":"middle","fontSize":5.8,"color":"#000000"},
 "encoding":{"text":{"field":"t"},"x":{"field":"i","type":"quantitative","scale":{"domain":[-0.47,121.8],"nice":false,"zero":false},"axis":null},
 "y":{"field":"p","type":"quantitative","scale":{"domain":[1.31005,1.34109],"nice":false,"zero":false},"axis":null}}},
{"data":{"values":[{"t":"SELL","i":94.6,"p":1.3376}]},"mark":{"type":"text","align":"center","baseline":"middle","fontSize":11.5,"fontWeight":"bold","color":"#ff3030"},
 "encoding":{"text":{"field":"t"},"x":{"field":"i","type":"quantitative","scale":{"domain":[-0.47,121.8],"nice":false,"zero":false},"axis":null},
 "y":{"field":"p","type":"quantitative","scale":{"domain":[1.31005,1.34109],"nice":false,"zero":false},"axis":null}}},
{"data":{"values":[{"t":"SL","i":112.0,"p":1.3245},{"t":"ENTRY","i":114.9,"p":1.3190}]},"mark":{"type":"text","align":"center","baseline":"middle","fontSize":12,"color":"#000000"},
 "encoding":{"text":{"field":"t"},"x":{"field":"i","type":"quantitative","scale":{"domain":[-0.47,121.8],"nice":false,"zero":false},"axis":null},
 "y":{"field":"p","type":"quantitative","scale":{"domain":[1.31005,1.34109],"nice":false,"zero":false},"axis":null}}},
{"data":{"values":[{"t":"38.2","i":121.4,"p":1.33245}]},"mark":{"type":"text","align":"right","baseline":"middle","fontSize":6.5,"color":"#c05050"},
 "encoding":{"text":{"field":"t"},"x":{"field":"i","type":"quantitative","scale":{"domain":[-0.47,121.8],"nice":false,"zero":false},"axis":null},
 "y":{"field":"p","type":"quantitative","scale":{"domain":[1.31005,1.34109],"nice":false,"zero":false},"axis":null}}},
{"data":{"name":"ylabMain"},"mark":{"type":"rule","strokeWidth":1,"color":"#505050"},
 "encoding":{"x":{"datum":121.8,"type":"quantitative","scale":{"domain":[-0.47,121.8],"nice":false,"zero":false},"axis":null},"x2":{"datum":122.3},
 "y":{"field":"p","type":"quantitative","scale":{"domain":[1.31005,1.34109],"nice":false,"zero":false},"axis":null}}},
{"data":{"name":"ylabMain"},"mark":{"type":"text","align":"left","baseline":"middle","fontSize":6,"color":"#000000"},
 "encoding":{"text":{"field":"t"},"x":{"datum":122.4,"type":"quantitative","scale":{"domain":[-0.47,121.8],"nice":false,"zero":false},"axis":null},
 "y":{"field":"p","type":"quantitative","scale":{"domain":[1.31005,1.34109],"nice":false,"zero":false},"axis":null}}},
{"data":{"name":"tags"},"transform":[{"filter":"datum.k=='sl'"}],"mark":{"type":"rule","strokeWidth":7,"strokeCap":"butt","color":"#ff9a1a"},
 "encoding":{"x":{"datum":122.0,"type":"quantitative","scale":{"domain":[-0.47,121.8],"nice":false,"zero":false},"axis":null},"x2":{"datum":126.9},
 "y":{"field":"p","type":"quantitative","scale":{"domain":[1.31005,1.34109],"nice":false,"zero":false},"axis":null}}},
{"data":{"name":"tags"},"transform":[{"filter":"datum.k!='sl'"}],"mark":{"type":"rule","strokeWidth":7,"strokeCap":"butt","color":"#000000"},
 "encoding":{"x":{"datum":122.0,"type":"quantitative","scale":{"domain":[-0.47,121.8],"nice":false,"zero":false},"axis":null},"x2":{"datum":126.9},
 "y":{"field":"p","type":"quantitative","scale":{"domain":[1.31005,1.34109],"nice":false,"zero":false},"axis":null}}},
{"data":{"name":"tags"},"mark":{"type":"text","align":"center","baseline":"middle","fontSize":6,"color":"#ffffff"},
 "encoding":{"text":{"field":"t"},"x":{"datum":124.45,"type":"quantitative","scale":{"domain":[-0.47,121.8],"nice":false,"zero":false},"axis":null},
 "y":{"field":"p","type":"quantitative","scale":{"domain":[1.31005,1.34109],"nice":false,"zero":false},"axis":null}}}
]
},
{
"width":600,"height":70,
"layer":[
{"data":{"name":"macdlvl"},"mark":{"type":"rule","color":"#e83a3a","strokeDash":[2,2],"strokeWidth":1},
 "encoding":{"y":{"field":"v","type":"quantitative","scale":{"domain":[-17,34.4],"nice":false,"zero":false},"axis":null}}},
{"data":{"name":"now"},"mark":{"type":"rule","color":"#30d0f0","strokeDash":[2,2],"strokeWidth":1},
 "encoding":{"x":{"field":"i","type":"quantitative","scale":{"domain":[-0.47,121.8],"nice":false,"zero":false},"axis":null}}},
{"data":{"name":"macd"},"mark":{"type":"rule","strokeWidth":1},
 "encoding":{"x":{"field":"i","type":"quantitative","scale":{"domain":[-0.47,121.8],"nice":false,"zero":false},"axis":null},
 "y":{"field":"v","type":"quantitative","scale":{"domain":[-17,34.4],"nice":false,"zero":false},"axis":null},
 "y2":{"datum":0},
 "color":{"condition":{"test":"datum.t == 'u'","value":"#74f074"},"value":"#ff5050"}}},
{"data":{"name":"macd"},"mark":{"type":"line","color":"#505050","strokeWidth":1},
 "encoding":{"x":{"field":"i","type":"quantitative","scale":{"domain":[-0.47,121.8],"nice":false,"zero":false},"axis":null},
 "y":{"field":"v","type":"quantitative","scale":{"domain":[-17,34.4],"nice":false,"zero":false},"axis":null}}},
{"data":{"values":[{"t":"MACDcolored_v102 (8,13,1) 0.0 -7.9 0.0 -7.9","i":0.2,"v":29.8}]},"mark":{"type":"text","align":"left","baseline":"middle","fontSize":6,"color":"#202020"},
 "encoding":{"text":{"field":"t"},"x":{"field":"i","type":"quantitative","scale":{"domain":[-0.47,121.8],"nice":false,"zero":false},"axis":null},
 "y":{"field":"v","type":"quantitative","scale":{"domain":[-17,34.4],"nice":false,"zero":false},"axis":null}}},
{"data":{"values":[{"t":"24","i":96.9,"v":-6.5}]},"mark":{"type":"text","align":"left","baseline":"middle","fontSize":10,"font":"DejaVu Serif","color":"#303030"},
 "encoding":{"text":{"field":"t"},"x":{"field":"i","type":"quantitative","scale":{"domain":[-0.47,121.8],"nice":false,"zero":false},"axis":null},
 "y":{"field":"v","type":"quantitative","scale":{"domain":[-17,34.4],"nice":false,"zero":false},"axis":null}}},
{"data":{"name":"ylabMacd"},"mark":{"type":"rule","strokeWidth":1,"color":"#505050"},
 "encoding":{"x":{"datum":121.8,"type":"quantitative","scale":{"domain":[-0.47,121.8],"nice":false,"zero":false},"axis":null},"x2":{"datum":122.3},
 "y":{"field":"v","type":"quantitative","scale":{"domain":[-17,34.4],"nice":false,"zero":false},"axis":null}}},
{"data":{"name":"ylabMacd"},"mark":{"type":"text","align":"left","baseline":"middle","fontSize":6,"color":"#000000"},
 "encoding":{"text":{"field":"t"},"x":{"datum":122.4,"type":"quantitative","scale":{"domain":[-0.47,121.8],"nice":false,"zero":false},"axis":null},
 "y":{"field":"v","type":"quantitative","scale":{"domain":[-17,34.4],"nice":false,"zero":false},"axis":null}}}
]
},
{
"width":600,"height":55,
"layer":[
{"data":{"name":"adxc"},"mark":{"type":"rule","strokeWidth":4},
 "encoding":{"x":{"field":"i","type":"quantitative","scale":{"domain":[-0.47,121.8],"nice":false,"zero":false},"axis":null},
 "color":{"condition":{"test":"datum.c == 'G'","value":"#3f8016"},"value":"#ee2a52"}}},
{"data":{"name":"now"},"mark":{"type":"rule","color":"#30d0f0","strokeDash":[2,2],"strokeWidth":1},
 "encoding":{"x":{"field":"i","type":"quantitative","scale":{"domain":[-0.47,121.8],"nice":false,"zero":false},"axis":null}}},
{"data":{"name":"adxl"},"transform":[{"filter":"datum.s=='pdi'"}],"mark":{"type":"line","strokeWidth":1.5,"color":"#f2f2f2"},
 "encoding":{"x":{"field":"i","type":"quantitative","scale":{"domain":[-0.47,121.8],"nice":false,"zero":false},"axis":null},
 "y":{"field":"v","type":"quantitative","scale":{"domain":[-0.15,5.4],"nice":false,"zero":false},"axis":null}}},
{"data":{"name":"adxl"},"transform":[{"filter":"datum.s=='mdi'"}],"mark":{"type":"line","strokeWidth":1.5,"color":"#000000"},
 "encoding":{"x":{"field":"i","type":"quantitative","scale":{"domain":[-0.47,121.8],"nice":false,"zero":false},"axis":null},
 "y":{"field":"v","type":"quantitative","scale":{"domain":[-0.15,5.4],"nice":false,"zero":false},"axis":null}}},
{"data":{"name":"adxl"},"transform":[{"filter":"datum.s=='adx'"}],"mark":{"type":"line","strokeWidth":1.5,"color":"#22d8ea"},
 "encoding":{"x":{"field":"i","type":"quantitative","scale":{"domain":[-0.47,121.8],"nice":false,"zero":false},"axis":null},
 "y":{"field":"v","type":"quantitative","scale":{"domain":[-0.15,5.4],"nice":false,"zero":false},"axis":null}}},
{"data":{"values":[{"t":"ADXColorbar  ADX(14) 23.5302 +DI:10.4804 -DI:27.3344","i":0.2,"v":4.8}]},"mark":{"type":"text","align":"left","baseline":"middle","fontSize":6,"color":"#101010"},
 "encoding":{"text":{"field":"t"},"x":{"field":"i","type":"quantitative","scale":{"domain":[-0.47,121.8],"nice":false,"zero":false},"axis":null},
 "y":{"field":"v","type":"quantitative","scale":{"domain":[-0.15,5.4],"nice":false,"zero":false},"axis":null}}},
{"data":{"name":"ylabAdx"},"mark":{"type":"text","align":"left","baseline":"middle","fontSize":6,"color":"#000000"},
 "encoding":{"text":{"field":"t"},"x":{"datum":122.4,"type":"quantitative","scale":{"domain":[-0.47,121.8],"nice":false,"zero":false},"axis":null},
 "y":{"field":"v","type":"quantitative","scale":{"domain":[-0.15,5.4],"nice":false,"zero":false},"axis":null}}}
]
},
{
"width":600,"height":13,
"layer":[
{"data":{"name":"strip"},"mark":{"type":"rule","strokeWidth":4},
 "encoding":{"x":{"field":"i","type":"quantitative","scale":{"domain":[-0.47,121.8],"nice":false,"zero":false},"axis":{"orient":"bottom","values":[-0.47,7.58,15.63,23.68,31.73,39.78,47.83,55.88,63.93,71.98,80.03,88.08,100.4],"labelOverlap":false,"labelExpr":"datum.value>99?'07:00':['10 Apr 2009','10 Apr 11:00','10 Apr 19:00','13 Apr 07:00','13 Apr 15:00','13 Apr 23:00','14 Apr 07:00','14 Apr 15:00','14 Apr 23:00','15 Apr 07:00','15 Apr 15:00','15 A'][round((datum.value+0.47)/8.05)]","labelAlign":"left","labelOffset":1,"labelPadding":1,"tickSize":3,"labelFontSize":6}},
 "color":{"condition":[{"test":"datum.c == 'R'","value":"#ee2a52"},{"test":"datum.c == 'G'","value":"#3f8016"}],"value":"#ffff00"}}},
{"data":{"name":"now"},"mark":{"type":"rule","color":"#30d0f0","strokeDash":[2,2],"strokeWidth":1},
 "encoding":{"x":{"field":"i","type":"quantitative","scale":{"domain":[-0.47,121.8],"nice":false,"zero":false}}}},
{"data":{"values":[{"t":"MetaQuotes FX Trader 4.7 2001-2008 MetaQuotes Software Corp.","i":0.2,"v":0.5}]},"mark":{"type":"text","align":"left","baseline":"middle","fontSize":6,"color":"#303030"},
 "encoding":{"text":{"field":"t"},"x":{"field":"i","type":"quantitative","scale":{"domain":[-0.47,121.8],"nice":false,"zero":false}},
 "y":{"field":"v","type":"quantitative","scale":{"domain":[0,1],"nice":false,"zero":false},"axis":null}}},
{"data":{"name":"ylabStrip"},"mark":{"type":"text","align":"left","baseline":"middle","fontSize":5.5,"color":"#000000"},
 "encoding":{"text":{"field":"t"},"x":{"datum":122.4,"type":"quantitative","scale":{"domain":[-0.47,121.8],"nice":false,"zero":false}},
 "y":{"field":"v","type":"quantitative","scale":{"domain":[0,1],"nice":false,"zero":false},"axis":null}}},
{"data":{"values":[{"i":90.4,"i2":100.0,"v":-0.55}]},"mark":{"type":"rule","strokeWidth":8,"strokeCap":"butt","color":"#22c8ec"},
 "encoding":{"x":{"field":"i","type":"quantitative","scale":{"domain":[-0.47,121.8],"nice":false,"zero":false}},"x2":{"field":"i2"},
 "y":{"field":"v","type":"quantitative","scale":{"domain":[0,1],"nice":false,"zero":false},"axis":null}}},
{"data":{"values":[{"t":"2009.04.16 06:50","i":95.4,"v":-0.55}]},"mark":{"type":"text","align":"center","baseline":"middle","fontSize":5.5,"color":"#ffffff"},
 "encoding":{"text":{"field":"t"},"x":{"field":"i","type":"quantitative","scale":{"domain":[-0.47,121.8],"nice":false,"zero":false}},
 "y":{"field":"v","type":"quantitative","scale":{"domain":[0,1],"nice":false,"zero":false},"axis":null}}}
]
}
]
}
